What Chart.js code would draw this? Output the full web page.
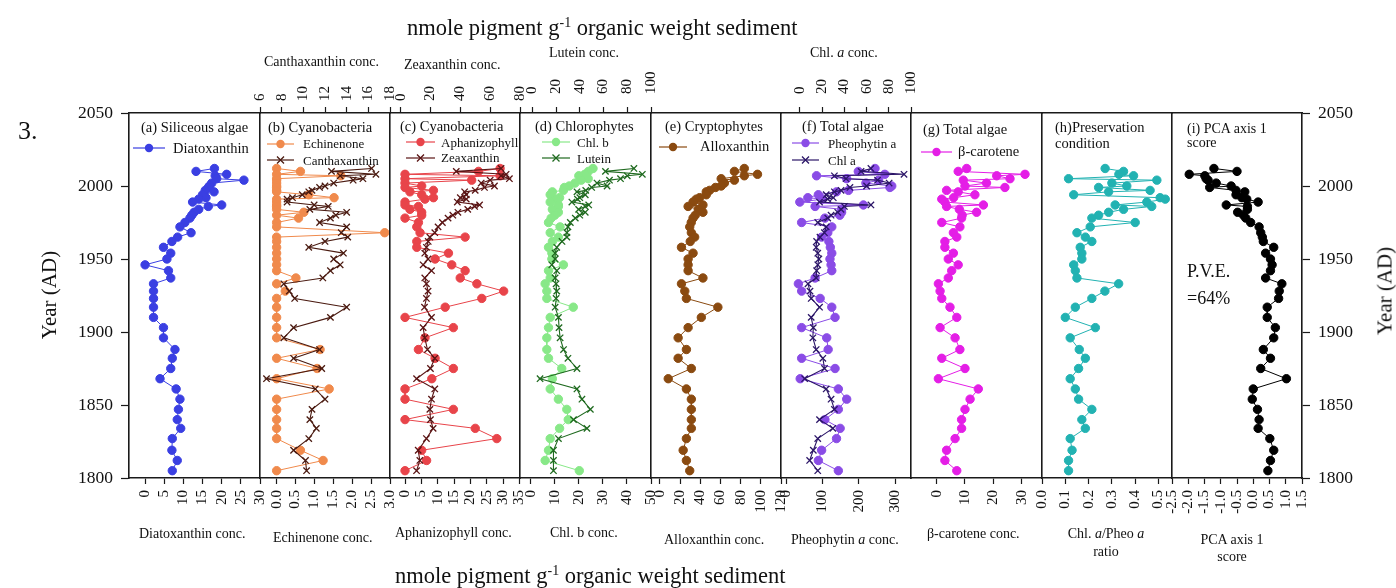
<!DOCTYPE html>
<html><head><meta charset="utf-8">
<script src="https://cdn.jsdelivr.net/npm/chart.js@4/dist/chart.umd.min.js"></script>
<style>
html,body{margin:0;padding:0;background:#fff;}
#wrap{position:relative;width:1396px;height:588px;overflow:hidden;font-family:"Liberation Serif","Times New Roman",serif;color:#111;background:#fff;}
#wrap canvas{position:absolute;left:0;top:0;}
.t{position:absolute;white-space:nowrap;line-height:1;}
.s{position:absolute;display:block;}
</style></head><body><div id="wrap"></div>
<script>
// ---------- data ----------
const years = [2012, 2010, 2008, 2007, 2005, 2004, 2002, 2000, 1999, 1997, 1996, 1994, 1992, 1991, 1989, 1987, 1986, 1984, 1982, 1980, 1978, 1975, 1972, 1968, 1965, 1962, 1958, 1954, 1950, 1946, 1942, 1937, 1933, 1928, 1923, 1917, 1910, 1903, 1896, 1888, 1882, 1875, 1868, 1861, 1854, 1847, 1840, 1834, 1827, 1819, 1812, 1805];
const yearTicks = [1800, 1850, 1900, 1950, 2000, 2050];

const diatoxanthin = [18.1, 13.3, 21.3, 18.3, 18.7, 25.8, 17.4, 16.8, 16.5, 15.7, 18.0, 15.0, 15.9, 14.0, 12.4, 20.0, 16.5, 14.0, 12.8, 12.2, 11.7, 10.4, 9.1, 12.0, 8.5, 7.0, 4.8, 6.7, 5.7, 0, 6.1, 6.7, 2.2, 2.2, 2.2, 2.2, 2.2, 4.8, 4.8, 7.8, 7.1, 6.7, 3.9, 8.1, 9.1, 8.7, 8.4, 9.3, 7.1, 7.0, 8.4, 7.1];
const echinenone = [0, 0.63, 0, 1.7, 0, 0, 0, 0, 0, 0, 0, 0.85, 1.52, 0, 0, 0, 0, 0, 0.72, 0, 0.58, 0, 0, 2.86, 0, 0, 0, 0, 0, 0, 0, 0.51, 0, 0.23, 0, 0, 0, 0, 0, 1.15, 0, 1.07, 0, 1.39, 0, 0, 0, 0, 0, 0.63, 1.23, 0];
const canthaxanthin = [16.3, 12.6, 16.7, 13.4, 15.5, 14.6, 12.8, 12.0, 11.5, 10.8, 10.5, 9.9, 9.0, 8.5, 8.5, 11.0, 12.3, 10.6, 14.0, 13.0, 12.5, 11.5, 14.0, 13.5, 14.1, 12.0, 10.5, 13.7, 12.8, 13.4, 12.5, 11.8, 8.2, 8.7, 9.2, 14.0, 12.5, 9.1, 8.2, 11.5, 9.1, 11.7, 6.6, 11.1, 12.0, 10.8, 10.6, 11.2, 10.5, 9.1, 10.2, 10.3];
const aphanizophyll = [29.1, 22.5, 0, 29.1, 0, 20.4, 0, 5.1, 0, 8.7, 1.5, 5.1, 8.7, 6.1, 0, 0, 4.1, 1.5, 5.1, 5.1, 0, 4.1, 3.6, 4.6, 18.4, 3.6, 3.6, 13.3, 9.2, 14.3, 18.4, 16.9, 22.0, 30.2, 23.5, 12.3, 0, 14.8, 6.1, 4.1, 9.2, 14.8, 8.2, 0, 0, 14.8, 0, 21.5, 28.1, 5.1, 6.6, 0];
const zeaxanthin = [67.3, 37.3, 70.7, 67.3, 72.9, 60.0, 54.0, 62.9, 56.2, 50.0, 42.9, 44.0, 40.0, 44.0, 38.0, 52.9, 49.6, 45.0, 38.4, 35.0, 31.8, 28.0, 25.1, 22.9, 19.6, 18.5, 17.3, 16.2, 18.4, 15.1, 20.7, 16.2, 17.3, 18.4, 17.3, 16.0, 20.7, 15.1, 16.2, 18.0, 22.9, 20.0, 10.7, 22.9, 20.7, 19.6, 20.0, 21.8, 17.3, 11.8, 12.9, 10.7];
const chlB = [25.9, 24.0, 22.5, 20.0, 23.9, 21.0, 18.4, 16.0, 14.0, 13.6, 9.0, 8.1, 12.0, 10.5, 8.1, 11.5, 11.5, 9.0, 11.5, 10.0, 8.5, 7.4, 12.2, 8.1, 11.5, 9.0, 7.4, 8.8, 8.8, 13.6, 7.4, 8.1, 6.0, 6.7, 6.7, 17.7, 8.1, 7.4, 6.7, 6.7, 7.4, 12.9, 9.0, 8.1, 11.5, 15.0, 15.6, 12.0, 8.1, 7.4, 6.0, 20.2];
const lutein = [85.6, 61.6, 92.7, 80.0, 74.3, 65.0, 54.5, 63.0, 50.0, 45.0, 37.6, 44.6, 40.0, 38.0, 33.3, 47.5, 44.6, 39.0, 44.6, 40.0, 36.2, 32.0, 30.0, 29.1, 29.1, 25.0, 20.6, 19.2, 19.2, 16.4, 20.6, 19.2, 20.0, 20.6, 20.0, 19.2, 22.0, 22.5, 23.4, 26.3, 30.0, 37.6, 6.5, 37.6, 41.8, 48.9, 34.7, 46.0, 22.0, 17.8, 17.8, 17.8];
const alloxanthin = [83.6, 73.8, 96.7, 83.6, 60.7, 73.8, 63.9, 60.7, 55.0, 49.2, 45.9, 45.9, 39.3, 36.0, 32.8, 42.6, 27.9, 38.0, 42.6, 35.0, 32.8, 31.0, 29.5, 31.1, 34.4, 30.0, 21.3, 32.8, 27.9, 27.9, 27.9, 42.6, 21.3, 24.6, 26.2, 57.4, 41.0, 27.9, 18.0, 26.2, 18.0, 31.1, 8.2, 26.2, 31.1, 31.1, 31.1, 31.1, 26.2, 23.0, 26.2, 29.5];
const pheophytinA = [245, 199, 272, 84, 167, 255, 220, 291, 286, 172, 139, 89, 60, 100, 38, 213, 80, 153, 153, 148, 107, 43, 126, 115, 98, 118, 122, 126, 121, 124, 126, 80, 34, 43, 94, 126, 135, 43, 112, 116, 43, 135, 39, 144, 167, 144, 107, 149, 139, 98, 89, 144];
const chlA = [63.9, 55.0, 93.7, 31.0, 41.5, 69.9, 80.3, 60.0, 45.0, 37.0, 31.0, 23.6, 30.0, 25.0, 17.6, 63.9, 40.0, 37.0, 34.0, 28.0, 25.0, 16.0, 23.6, 22.0, 18.0, 15.0, 14.6, 16.0, 17.0, 16.0, 15.0, 14.6, 7.2, 9.0, 10.1, 17.6, 10.1, 12.0, 11.6, 14.6, 20.6, 22.1, 4.2, 23.6, 28.0, 31.0, 17.6, 29.6, 16.0, 12.0, 8.7, 16.0];
const betaCarotene = [10.6, 7.6, 31.2, 21.2, 25.9, 9.4, 17.6, 10.0, 24.1, 3.5, 7.6, 13.5, 6.0, 1.8, 2.9, 16.5, 3.5, 8.0, 14.1, 9.0, 8.8, 1.8, 8.2, 5.9, 7.1, 2.9, 2.9, 5.9, 4.1, 7.6, 5.3, 4.1, 0.6, 1.2, 1.8, 4.7, 7.1, 1.2, 6.5, 8.2, 1.8, 10.0, 0.6, 14.7, 11.8, 10.0, 8.8, 8.8, 6.5, 3.5, 2.9, 7.1];
const chlPheoRatio = [0.271, 0.35, 0.33, 0.393, 0.114, 0.493, 0.30, 0.364, 0.243, 0.464, 0.286, 0.136, 0.507, 0.529, 0.45, 0.314, 0.471, 0.35, 0.286, 0.243, 0.214, 0.40, 0.207, 0.15, 0.186, 0.214, 0.164, 0.171, 0.171, 0.136, 0.143, 0.15, 0.329, 0.27, 0.214, 0.143, 0.10, 0.229, 0.121, 0.16, 0.186, 0.157, 0.121, 0.143, 0.157, 0.214, 0.171, 0.186, 0.121, 0.129, 0.114, 0.114];
const pcaScore = [-1.21, -0.50, -1.97, -1.49, -1.45, -1.39, -1.14, -0.68, -1.34, -0.53, -0.26, -0.53, -0.35, -0.20, 0.15, -0.83, -0.18, -0.18, -0.48, -0.30, -0.23, -0.08, 0.18, 0.23, 0.28, 0.31, 0.63, 0.38, 0.53, 0.58, 0.53, 0.38, 0.88, 0.80, 0.78, 0.43, 0.43, 0.68, 0.63, 0.31, 0.53, 0.23, 1.02, 0.00, -0.03, 0.13, 0.18, 0.15, 0.51, 0.63, 0.53, 0.45];

// tick labels of each axis
const ticksDiato = [0, 5, 10, 15, 20, 25, 30];
const ticksEchin = [0, 0.5, 1.0, 1.5, 2.0, 2.5, 3.0];
const ticksCantha = [6, 8, 10, 12, 14, 16, 18];
const ticksAphan = [0, 5, 10, 15, 20, 25, 30, 35];
const ticksZea = [0, 20, 40, 60, 80];
const ticksChlB = [0, 10, 20, 30, 40, 50];
const ticksLutein = [0, 20, 40, 60, 80, 100];
const ticksAllox = [0, 20, 40, 60, 80, 100, 120];
const ticksPheo = [0, 100, 200, 300];
const ticksChlA = [0, 20, 40, 60, 80, 100];
const ticksBeta = [0, 10, 20, 30];
const ticksRatio = [0, 0.1, 0.2, 0.3, 0.4, 0.5];
const ticksPCA = [-2.5, -2.0, -1.5, -1.0, -0.5, 0.0, 0.5, 1.0, 1.5];

// ---------- layout / style ----------
Chart.defaults.font.family = '"Liberation Serif", "Times New Roman", serif';
Chart.defaults.color = '#111';
const W = 1396, H = 588, PLOT_TOP = 113, PLOT_BOTTOM = 478;
const TOP_AXIS_H = 60, BOTTOM_AXIS_H = 50, Y_AXIS_W = 70;
const TICK_FONT = 15;
const panelEdges = [129, 260, 390, 520, 651, 781, 911, 1042, 1172, 1302];
const FRAME = '#1a1a1a';
const wrap = document.getElementById('wrap');

const fitTo = size => s => {
  if (s.isHorizontal()) s.height = size; else s.width = size;
  s.paddingLeft = s.paddingRight = s.paddingTop = s.paddingBottom = 0;
};
function xAxis(pos, spec) {
  const size = pos === 'top' ? TOP_AXIS_H : BOTTOM_AXIS_H;
  if (!spec) {
    return { type: 'linear', position: pos, min: 0, max: 1, ticks: { display: false },
      grid: { display: false }, border: { display: true, color: FRAME, width: 1.6 }, afterFit: fitTo(size) };
  }
  return { type: 'linear', position: pos, min: spec.min, max: spec.max, bounds: 'data',
    afterBuildTicks: s => { s.ticks = spec.ticks.map(v => ({ value: v })); },
    ticks: { display: true, autoSkip: false, minRotation: 90, maxRotation: 90, padding: spec.pad || 6,
      // Chart.js shifts rotated top-axis labels by one line height; compensate
      labelOffset: pos === 'top' ? TICK_FONT * 1.2 : 0,
      font: { size: TICK_FONT }, color: '#111', callback: v => Number(v).toFixed(spec.dec || 0) },
    grid: { display: true, drawOnChartArea: false, drawTicks: true, tickLength: 6, tickColor: FRAME, tickWidth: 1.2 },
    border: { display: true, color: FRAME, width: 1.6 }, afterFit: fitTo(size) };
}
function yAxis(pos, labels) {
  return { type: 'linear', position: pos, min: 1800, max: 2050, bounds: 'data',
    afterBuildTicks: s => { s.ticks = yearTicks.map(v => ({ value: v })); },
    ticks: { display: labels, padding: 8, font: { size: 17.5 }, color: '#111', callback: v => String(v) },
    grid: { display: labels, drawOnChartArea: false, drawTicks: true, tickLength: 8, tickColor: FRAME, tickWidth: 1.2 },
    border: { display: true, color: FRAME, width: 1.6 }, afterFit: fitTo(labels ? Y_AXIS_W : 0) };
}
function makePanel(k, spec) {
  const cv = document.createElement('canvas');
  cv.width = W; cv.height = H; cv.style.width = W + 'px'; cv.style.height = H + 'px';
  wrap.appendChild(cv);
  const first = k === 0, last = k === 8;
  const scales = { y: yAxis('left', first), xb: xAxis('bottom', spec.bottom), xt: xAxis('top', spec.top) };
  if (last) scales.y2 = yAxis('right', true);
  new Chart(cv, {
    type: 'line',
    data: { datasets: spec.series.map(s => {
      const cross = s.marker === 'cross';
      return { label: s.label, data: years.map((yr, i) => ({ x: s.values[i], y: yr })),
        xAxisID: s.axis === 'top' ? 'xt' : 'xb', yAxisID: 'y',
        borderColor: s.color, backgroundColor: s.color, borderWidth: cross ? 1.1 : 1,
        pointStyle: cross ? 'crossRot' : 'circle', pointRadius: cross ? 4.5 : 4.2,
        pointBorderWidth: cross ? 1.3 : 1, pointBackgroundColor: s.color, pointBorderColor: s.color,
        tension: 0, fill: false, spanGaps: true };
    }) },
    options: { responsive: false, animation: false, devicePixelRatio: 1, events: [],
      layout: { padding: {
        left: panelEdges[k] - (first ? Y_AXIS_W : 0),
        right: W - panelEdges[k + 1] - (last ? Y_AXIS_W : 0),
        top: PLOT_TOP - TOP_AXIS_H,
        bottom: H - PLOT_BOTTOM - BOTTOM_AXIS_H } },
      plugins: { legend: { display: false }, tooltip: { enabled: false } },
      scales }
  });
}

const C = { blue: '#3a3fe2', orange: '#f08a4c', cantha: '#4a1a10', red: '#e8444a', zea: '#5a1414',
  lgreen: '#88e888', dgreen: '#1f6a1f', brown: '#8a4a10', purple: '#8a4ce6', chla: '#2c1668',
  magenta: '#e41ee6', teal: '#22b2b2', black: '#000000' };

makePanel(0, { bottom: { min: -4.2, max: 30, ticks: ticksDiato, dec: 0 },
  series: [{ label: 'Diatoxanthin', values: diatoxanthin, color: C.blue, marker: 'circle' }] });
makePanel(1, { bottom: { min: -0.44, max: 3.0, ticks: ticksEchin, dec: 1 }, top: { min: 6, max: 18, ticks: ticksCantha, dec: 0, pad: 6 },
  series: [{ label: 'Canthaxanthin', values: canthaxanthin, color: C.cantha, marker: 'cross', axis: 'top' },
           { label: 'Echinenone', values: echinenone, color: C.orange, marker: 'circle' }] });
makePanel(2, { bottom: { min: -4.6, max: 35.2, ticks: ticksAphan, dec: 0 }, top: { min: -7.1, max: 80, ticks: ticksZea, dec: 0, pad: 6 },
  series: [{ label: 'Zeaxanthin', values: zeaxanthin, color: C.zea, marker: 'cross', axis: 'top' },
           { label: 'Aphanizophyll', values: aphanizophyll, color: C.red, marker: 'circle' }] });
makePanel(3, { bottom: { min: -4.45, max: 50, ticks: ticksChlB, dec: 0 }, top: { min: -10.4, max: 100, ticks: ticksLutein, dec: 0, pad: 13 },
  series: [{ label: 'Lutein', values: lutein, color: C.dgreen, marker: 'cross', axis: 'top' },
           { label: 'Chl. b', values: chlB, color: C.lgreen, marker: 'circle' }] });
makePanel(4, { bottom: { min: -8.9, max: 120, ticks: ticksAllox, dec: 0 },
  series: [{ label: 'Alloxanthin', values: alloxanthin, color: C.brown, marker: 'circle' }] });
makePanel(5, { bottom: { min: -13.8, max: 344, ticks: ticksPheo, dec: 0 }, top: { min: -17.1, max: 100, ticks: ticksChlA, dec: 0, pad: 13 },
  series: [{ label: 'Chl a', values: chlA, color: C.chla, marker: 'cross', axis: 'top' },
           { label: 'Pheophytin a', values: pheophytinA, color: C.purple, marker: 'circle' }] });
makePanel(6, { bottom: { min: -9.07, max: 37.2, ticks: ticksBeta, dec: 0 },
  series: [{ label: 'β-carotene', values: betaCarotene, color: C.magenta, marker: 'circle' }] });
makePanel(7, { bottom: { min: 0, max: 0.558, ticks: ticksRatio, dec: 1 },
  series: [{ label: 'Chl. a/Pheo a ratio', values: chlPheoRatio, color: C.teal, marker: 'circle' }] });
makePanel(8, { bottom: { min: -2.5, max: 1.5, ticks: ticksPCA, dec: 1 },
  series: [{ label: 'PCA axis 1 score', values: pcaScore, color: C.black, marker: 'circle' }] });

// ---------- text ----------
function addText(html, x, cy, size, opts = {}) {
  const d = document.createElement('div');
  d.className = 't';
  d.innerHTML = html;
  d.style.fontSize = size + 'px';
  d.style.left = x + 'px';
  if (opts.rotate) {
    d.style.top = cy + 'px';
    d.style.transform = 'translate(-50%,-50%) rotate(-90deg)';
  } else {
    d.style.top = (cy - size / 2) + 'px';
    if (opts.center) d.style.transform = 'translateX(-50%)';
  }
  wrap.appendChild(d);
}
function addSymbol(x, cy, w, color, marker) {
  const m = w / 2;
  const mk = marker === 'circle'
    ? `<circle cx="${m}" cy="7" r="4.2" fill="${color}"/>`
    : `<path d="M${m - 3.5} 3.5L${m + 3.5} 10.5M${m - 3.5} 10.5L${m + 3.5} 3.5" stroke="${color}" stroke-width="1.3"/>`;
  const s = document.createElementNS('http://www.w3.org/2000/svg', 'svg');
  s.setAttribute('width', w); s.setAttribute('height', 14);
  s.setAttribute('class', 's');
  s.style.left = x + 'px'; s.style.top = (cy - 7) + 'px';
  s.innerHTML = `<line x1="0" y1="7" x2="${w}" y2="7" stroke="${color}" stroke-width="1.2"/>${mk}`;
  wrap.appendChild(s);
}
function legend(sx, w, tx, cy, color, marker, label, size) {
  addSymbol(sx, cy, w, color, marker);
  addText(label, tx, cy, size);
}

const supM = '<sup style="font-size:0.62em;vertical-align:0.6em;line-height:0">-1</sup>';
addText('3.', 18, 131, 26);
addText('nmole pigment g' + supM + ' organic weight sediment', 407, 28, 22.5);
addText('nmole pigment g' + supM + ' organic weight sediment', 395, 576, 22.5);

addText('Canthaxanthin conc.', 264, 62, 14);
addText('Zeaxanthin conc.', 404, 65, 14);
addText('Lutein conc.', 549, 52.5, 14);
addText('Chl. <i>a</i> conc.', 810, 52.5, 14);

addText('Diatoxanthin conc.', 139, 534, 14);
addText('Echinenone conc.', 273, 538, 14);
addText('Aphanizophyll conc.', 395, 533, 14);
addText('Chl. b conc.', 550, 533, 14);
addText('Alloxanthin conc.', 664, 540, 14);
addText('Pheophytin <i>a</i> conc.', 791, 540, 14);
addText('β-carotene conc.', 927, 534, 14);
addText('Chl. <i>a</i>/Pheo <i>a</i>', 1106, 534, 14, { center: true });
addText('ratio', 1106, 552, 14, { center: true });
addText('PCA axis 1', 1232, 540, 14, { center: true });
addText('score', 1232, 557, 14, { center: true });

addText('Year (AD)', 49, 295, 21, { rotate: true });
addText('Year (AD)', 1385, 291, 21, { rotate: true });

// panel titles
addText('(a) Siliceous algae', 141, 127.5, 14.5);
addText('(b) Cyanobacteria', 268, 127.5, 14.5);
addText('(c) Cyanobacteria', 400, 126.5, 14.5);
addText('(d) Chlorophytes', 535, 126.5, 14.5);
addText('(e) Cryptophytes', 665, 126.5, 14.5);
addText('(f) Total algae', 802, 126.5, 14.5);
addText('(g) Total algae', 923, 129, 14.5);
addText('(h)Preservation', 1055, 127.5, 14.5);
addText('condition', 1055, 143.5, 14.5);
addText('(i) PCA axis 1', 1187, 128.5, 14);
addText('score', 1187, 142.5, 14);

// legends
legend(133, 32, 173, 148, C.blue, 'circle', 'Diatoxanthin', 14.5);
legend(267, 27, 303, 143.5, C.orange, 'circle', 'Echinenone', 13);
legend(267, 27, 303, 160, C.cantha, 'cross', 'Canthaxanthin', 13);
legend(406, 29, 441, 142, C.red, 'circle', 'Aphanizophyll', 13);
legend(406, 29, 441, 157.5, C.zea, 'cross', 'Zeaxanthin', 13);
legend(542, 28, 577, 142, C.lgreen, 'circle', 'Chl. b', 13);
legend(542, 28, 577, 158, C.dgreen, 'cross', 'Lutein', 13);
legend(659, 28, 700, 146.5, C.brown, 'circle', 'Alloxanthin', 14.5);
legend(792, 27, 828, 143, C.purple, 'circle', 'Pheophytin a', 13);
legend(792, 27, 828, 160, C.chla, 'cross', 'Chl a', 13);
legend(921, 31, 958, 151.5, C.magenta, 'circle', 'β-carotene', 14.5);

addText('P.V.E.', 1187, 271, 18);
addText('=64%', 1187, 298, 18);
</script>
</body></html>
